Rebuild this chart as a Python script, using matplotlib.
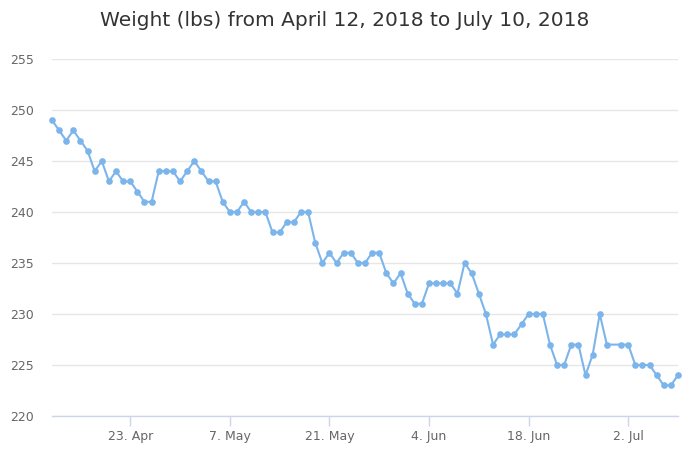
import matplotlib
matplotlib.use("Agg")
import matplotlib.pyplot as plt
import matplotlib.dates as mdates
import pandas as pd

# daily weigh-ins, 30 Jun missing
start = "2018-04-12"
end = "2018-07-09"
missing = ["2018-06-30"]
weights = [249, 248, 247, 248, 247, 246, 244, 245, 243, 244,
           243, 243, 242, 241, 241, 244, 244, 244, 243, 244,
           245, 244, 243, 243, 241, 240, 240, 241, 240, 240,
           240, 238, 238, 239, 239, 240, 240, 237, 235, 236,
           235, 236, 236, 235, 235, 236, 236, 234, 233, 234,
           232, 231, 231, 233, 233, 233, 233, 232, 235, 234,
           232, 230, 227, 228, 228, 228, 229, 230, 230, 230,
           227, 225, 225, 227, 227, 224, 226, 230, 227,
           227, 227, 225, 225, 225, 224, 223, 223, 224]

tick_dates = ["2018-04-23", "2018-05-07", "2018-05-21", "2018-06-04", "2018-06-18", "2018-07-02"]
y_ticks = [220, 225, 230, 235, 240, 245, 250, 255]

dates = pd.date_range(start, end, freq="D")
dates = dates[~dates.isin(pd.to_datetime(missing))]

fig = plt.figure(figsize=(6.9, 4.59), dpi=100)
ax = fig.add_axes([52/690, 43/459, 626/690, 357/459])

ax.plot(dates, weights, color="#7cb5ec", linewidth=1.5, marker="o", markersize=4.8,
        markeredgewidth=0, zorder=3, clip_on=False)

ax.set_xlim(dates[0], dates[-1])
ax.set_ylim(220, 255)
ax.set_yticks(y_ticks)
ax.grid(axis="y", color="#e6e6e6", linewidth=1)
ax.set_axisbelow(True)

ax.set_xticks(pd.to_datetime(tick_dates))
ax.xaxis.set_major_formatter(mdates.DateFormatter("%-d. %b"))

for s in ["top", "right", "left"]:
    ax.spines[s].set_visible(False)
ax.spines["bottom"].set_color("#ccd6eb")
ax.spines["bottom"].set_linewidth(1)

ax.tick_params(axis="x", colors="#ccd6eb", length=7, width=1, labelcolor="#666666",
               labelsize=9, pad=3)
ax.tick_params(axis="y", length=0, labelcolor="#666666", labelsize=9, pad=13)

fig.text(0.5, 1 - 20/459, "Weight (lbs) from April 12, 2018 to July 10, 2018",
         ha="center", va="center", fontsize=14.5, color="#333333")

fig.savefig("out.png", dpi=100)
